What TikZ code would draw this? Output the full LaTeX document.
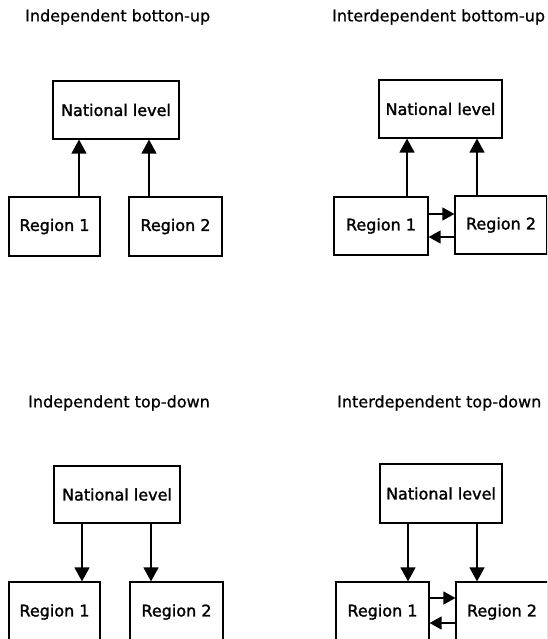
\documentclass[tikz,border=0pt]{standalone}
\usepackage{fontspec}
\setmainfont{DejaVu Sans}[FakeBold=0.8]
\newfontfamily\labelfont{DejaVu Sans}[FakeBold=1.6]
\usetikzlibrary{arrows.meta}
\begin{document}
\begin{tikzpicture}[x=1pt,y=-1pt,
  box/.style={draw,line width=1.2pt,inner sep=0pt,font=\labelfont\fontsize{16}{19}\selectfont},
  ttl/.style={anchor=west,inner sep=0pt,font=\fontsize{16}{19}\selectfont},
  flow/.style={line width=1.4pt,-{Triangle[width=15pt,length=14pt]}},
  side/.style={line width=1.4pt,-{Triangle[width=13pt,length=12pt]}}]
\useasboundingbox (0,0) rectangle (547,639);
\clip (0,0) rectangle (547,639);

% Independent bottom-up
\node[ttl] (t1) at (25,17) {Independent botton-up};
\node[box,minimum width=126pt,minimum height=58pt] (n1) at (116,110) {National level};
\node[box,minimum width=91pt,minimum height=59pt] (a1) at (54.5,226.5) {Region 1};
\node[box,minimum width=93pt,minimum height=59pt] (b1) at (175.5,226.5) {Region 2};
\draw[flow] (a1.north -| 79,0) -- (n1.south -| 79,0);
\draw[flow] (b1.north -| 149,0) -- (n1.south -| 149,0);

% Interdependent bottom-up
\node[ttl] (t2) at (332,17) {Interdependent bottom-up};
\node[box,minimum width=123pt,minimum height=58pt] (n2) at (440.5,109) {National level};
\node[box,minimum width=94pt,minimum height=58pt] (a2) at (381,226) {Region 1};
\node[box,minimum width=92pt,minimum height=58pt] (b2) at (501,225) {Region 2};
\draw[flow] (a2.north -| 407,0) -- (n2.south -| 407,0);
\draw[flow] (b2.north -| 477,0) -- (n2.south -| 477,0);
\draw[side] (a2.east |- 0,214) -- (b2.west |- 0,214);
\draw[side] (b2.west |- 0,237) -- (a2.east |- 0,237);

% Independent top-down
\node[ttl] (t3) at (28,403) {Independent top-down};
\node[box,minimum width=126pt,minimum height=57pt] (n3) at (117,494.5) {National level};
\node[box,minimum width=91pt,minimum height=60pt] (a3) at (54.5,612) {Region 1};
\node[box,minimum width=93pt,minimum height=60pt] (b3) at (176.5,612) {Region 2};
\draw[flow] (n3.south -| 82,0) -- (a3.north -| 82,0);
\draw[flow] (n3.south -| 151,0) -- (b3.north -| 151,0);

% Interdependent top-down
\node[ttl] (t4) at (337,403) {Interdependent top-down};
\node[box,minimum width=122pt,minimum height=59pt] (n4) at (441,493.5) {National level};
\node[box,minimum width=93pt,minimum height=60pt] (a4) at (382.5,612) {Region 1};
\node[box,minimum width=92pt,minimum height=60pt] (b4) at (502,612) {Region 2};
\draw[flow] (n4.south -| 408,0) -- (a4.north -| 408,0);
\draw[flow] (n4.south -| 477,0) -- (b4.north -| 477,0);
\draw[side] (a4.east |- 0,598) -- (b4.west |- 0,598);
\draw[side] (b4.west |- 0,623) -- (a4.east |- 0,623);
\end{tikzpicture}
\end{document}
